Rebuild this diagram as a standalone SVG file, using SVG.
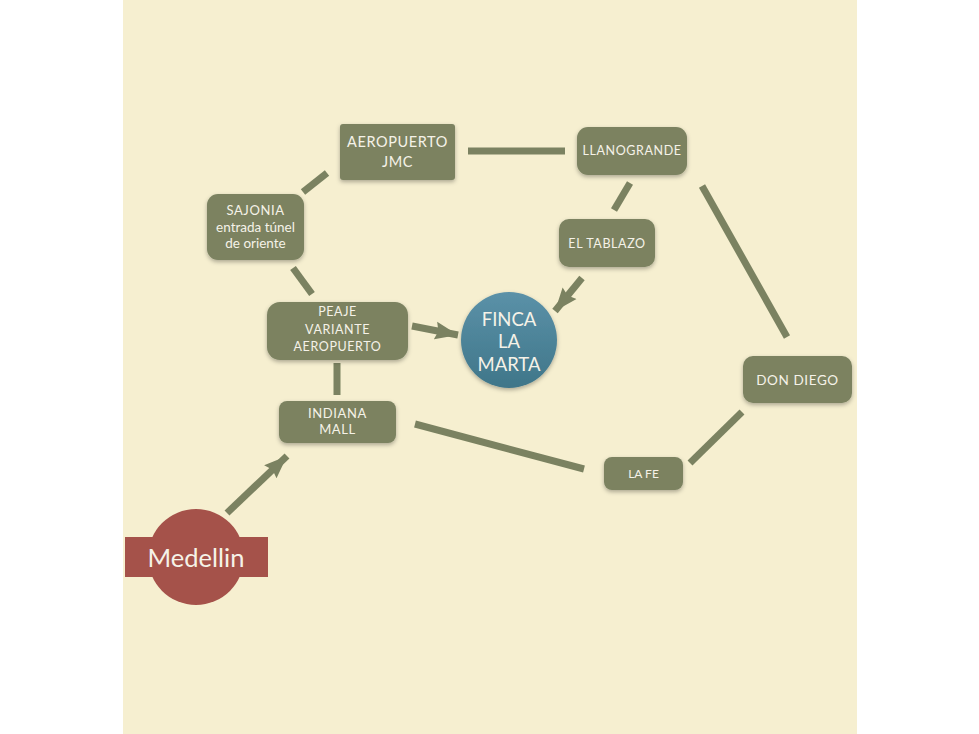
<svg xmlns="http://www.w3.org/2000/svg" width="979" height="734" viewBox="0 0 979 734">
  <defs>
    <style>
      .box { fill: #7b8261; }
      .lbl { font-family: Lato, "Open Sans", sans-serif; fill: #f5f2e8; text-anchor: middle; }
      .caps { letter-spacing: 0.6px; }
      .edge { stroke: #7b8261; stroke-width: 7; fill: none; stroke-linecap: butt; }
    </style>
    <filter id="sh" x="-20%" y="-20%" width="140%" height="150%">
      <feDropShadow dx="0" dy="2" stdDeviation="2" flood-color="#000" flood-opacity="0.3"/>
    </filter>
    <linearGradient id="blue" x1="0" y1="0" x2="0" y2="1">
      <stop offset="0" stop-color="#5b91a8"/>
      <stop offset="1" stop-color="#3f7689"/>
    </linearGradient>
    <marker id="ah" markerUnits="userSpaceOnUse" viewBox="0 -10 24 20" markerWidth="24" markerHeight="20" refX="23" refY="0" orient="auto">
      <path d="M0,-9 L23,0 L0,9 L3,0 z" fill="#7b8261"/>
    </marker>
  </defs>

  <rect width="979" height="734" fill="#ffffff"/>
  <rect x="123" y="0" width="734" height="734" fill="#f6efd0"/>

  <g id="connectors">
    <line class="edge" x1="303" y1="192" x2="327" y2="173"/>
    <line class="edge" x1="468" y1="151" x2="565" y2="151"/>
    <line class="edge" x1="630" y1="183" x2="614" y2="210"/>
    <line class="edge" x1="293" y1="268" x2="312" y2="294"/>
    <line class="edge" x1="702" y1="186" x2="787" y2="337"/>
    <line class="edge" x1="337" y1="363" x2="337" y2="395"/>
    <line class="edge" x1="415" y1="424" x2="584" y2="469"/>
    <line class="edge" x1="690" y1="463" x2="742" y2="412"/>
    <line class="edge" x1="412" y1="326" x2="458" y2="335" marker-end="url(#ah)"/>
    <line class="edge" x1="582" y1="278" x2="555" y2="311" marker-end="url(#ah)"/>
    <line class="edge" x1="227" y1="513" x2="287" y2="456" marker-end="url(#ah)"/>
  </g>

  <g id="aeropuerto">
    <rect class="box" x="340" y="124" width="115" height="56" rx="3" filter="url(#sh)"/>
    <text class="lbl caps" font-size="14.5" x="397.5" y="147">AEROPUERTO</text>
    <text class="lbl caps" font-size="14.5" x="397.5" y="167">JMC</text>
  </g>

  <g id="llanogrande">
    <rect class="box" x="577" y="127" width="110" height="48" rx="11" filter="url(#sh)"/>
    <text class="lbl caps" font-size="12.5" x="632" y="155">LLANOGRANDE</text>
  </g>

  <g id="sajonia">
    <rect class="box" x="207" y="194" width="97" height="66" rx="11" filter="url(#sh)"/>
    <text class="lbl caps" font-size="13" x="255.5" y="215">SAJONIA</text>
    <text class="lbl" font-size="13.5" x="255.5" y="232">entrada túnel</text>
    <text class="lbl" font-size="13.5" x="255.5" y="248">de oriente</text>
  </g>

  <g id="tablazo">
    <rect class="box" x="559" y="219" width="96" height="48" rx="10" filter="url(#sh)"/>
    <text class="lbl caps" font-size="12.5" x="607" y="247.5">EL TABLAZO</text>
  </g>

  <g id="peaje">
    <rect class="box" x="267" y="302" width="141" height="58" rx="13" filter="url(#sh)"/>
    <text class="lbl caps" font-size="12.5" x="337.5" y="316">PEAJE</text>
    <text class="lbl caps" font-size="12.5" x="337.5" y="334">VARIANTE</text>
    <text class="lbl caps" font-size="12.5" x="337.5" y="350.5">AEROPUERTO</text>
  </g>

  <g id="finca">
    <circle cx="509" cy="340" r="48" fill="url(#blue)" filter="url(#sh)"/>
    <text class="lbl" font-size="18.5" x="509" y="326">FINCA</text>
    <text class="lbl" font-size="18.5" x="509" y="348">LA</text>
    <text class="lbl" font-size="18.5" x="509" y="371">MARTA</text>
  </g>

  <g id="indiana">
    <rect class="box" x="279" y="401" width="117" height="42" rx="8" filter="url(#sh)"/>
    <text class="lbl caps" font-size="13" x="337.5" y="417.5">INDIANA</text>
    <text class="lbl caps" font-size="13" x="337.5" y="433.5">MALL</text>
  </g>

  <g id="dondiego">
    <rect class="box" x="743" y="356" width="109" height="47" rx="10" filter="url(#sh)"/>
    <text class="lbl caps" font-size="13.5" x="797.5" y="384.5">DON DIEGO</text>
  </g>

  <g id="lafe">
    <rect class="box" x="604" y="457" width="79" height="33" rx="8" filter="url(#sh)"/>
    <text class="lbl" font-size="12" x="643.5" y="478">LA FE</text>
  </g>

  <g id="medellin">
    <circle cx="196" cy="557" r="48" fill="#a5524a"/>
    <rect x="125" y="537" width="143" height="40" fill="#a5524a"/>
    <text class="lbl" font-size="25.5" x="196" y="567">Medellin</text>
  </g>
</svg>
